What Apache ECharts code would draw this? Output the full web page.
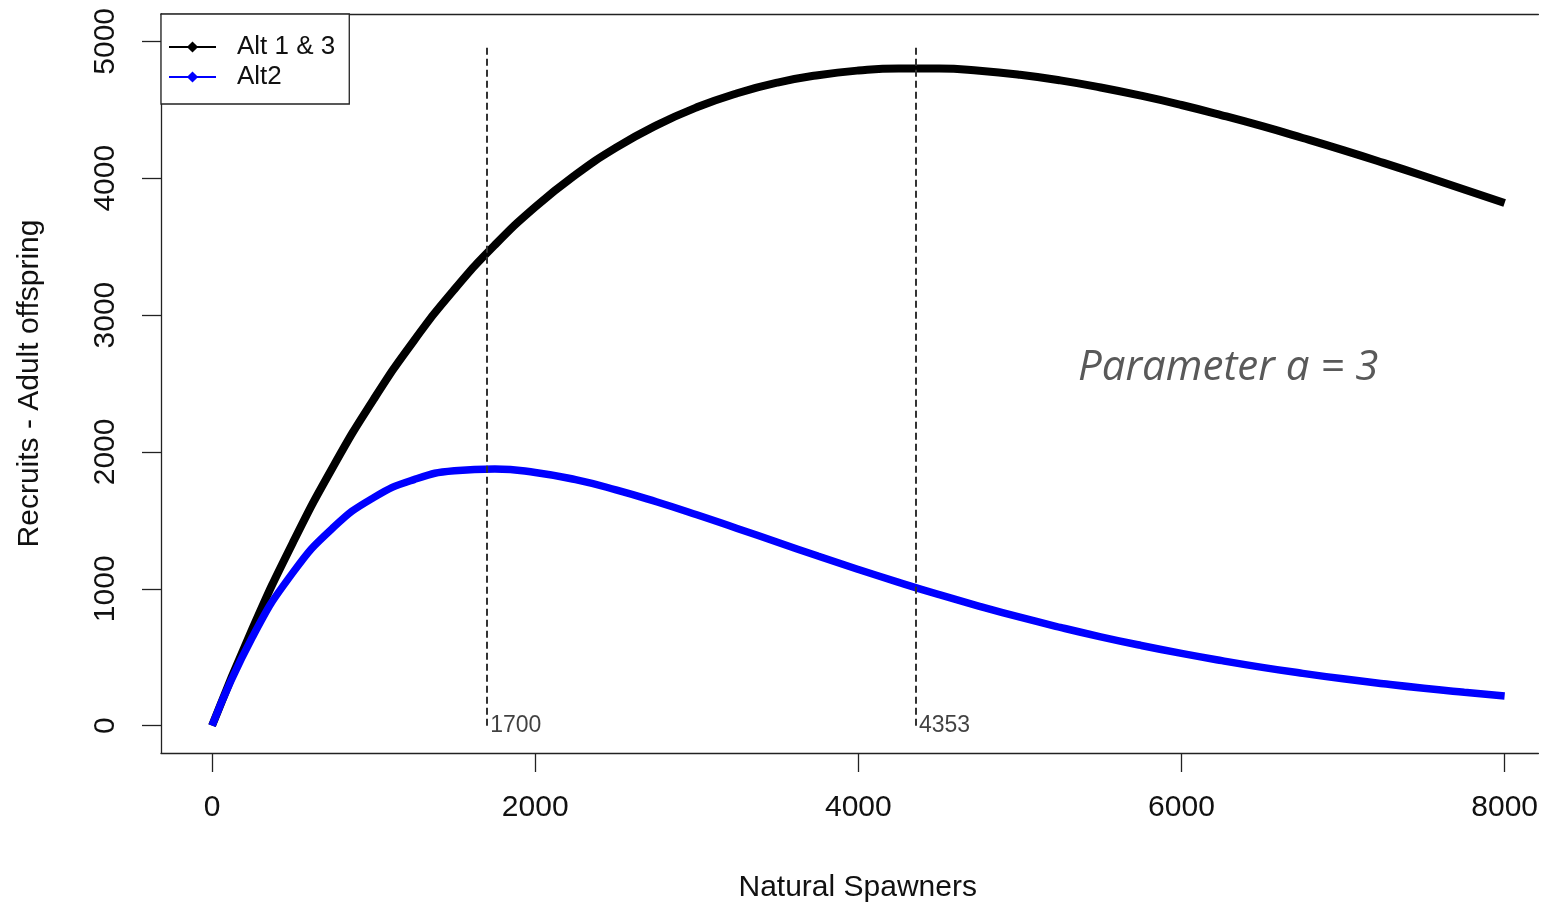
<!DOCTYPE html>
<html>
<head>
<meta charset="utf-8">
<script src="https://cdn.jsdelivr.net/npm/echarts@6/dist/echarts.min.js"></script>
<style>
html,body{margin:0;padding:0;background:#fff;}
#chart{width:1541px;height:912px;}
</style>
</head>
<body>
<div id="chart"></div>
<script>
// Natural spawners (x)
var spawners = [0,250,500,750,1000,1250,1500,1750,2000,2250,2500,2750,3000,3250,3500,3750,4000,4250,4500,4750,5000,5250,5500,5750,6000,6250,6500,6750,7000,7250,7500,7750,8000];
// Recruits, Alt 1 & 3
var alt13 = [0,708,1337,1894,2384,2814,3188,3512,3790,4025,4223,4386,4518,4621,4699,4753,4787,4802,4801,4785,4756,4715,4663,4603,4535,4460,4380,4294,4205,4112,4016,3918,3819];
// Recruits, Alt2
var alt2 = [0,647,1118,1447,1666,1798,1862,1875,1850,1797,1723,1636,1541,1441,1340,1239,1141,1047,957,872,792,718,649,586,528,475,426,382,342,306,273,244,217];
// Reference lines (spawners at max recruits)
var refLines = [1700, 4353];
var xTicks = [0,2000,4000,6000,8000];
var yTicks = [0,1000,2000,3000,4000,5000];
var seriesNames = ['Alt 1 & 3', 'Alt2'];
var annotation = 'Parameter a = 3';

function pairs(xs, ys){ return xs.map(function(x,i){ return [x, ys[i]]; }); }

var chart = echarts.init(document.getElementById('chart'), null, {renderer:'canvas'});
var font = '"Liberation Sans", Arial, sans-serif';
var axisColor = '#222';
var X_MIN = -316, X_MAX = 8209;

chart.setOption({
  animation: false,
  backgroundColor: '#fff',
  grid: {
    left: 161, top: 14, right: 0, bottom: 159,
    show: false, containLabel: false
  },
  legend: {
    data: seriesNames,
    orient: 'vertical',
    left: 161, top: 14,
    borderColor: axisColor, borderWidth: 1.3, borderRadius: 0,
    padding: [20, 14, 14, 7],
    itemWidth: 47, itemHeight: 14, itemGap: 4,
    backgroundColor: '#fff',
    lineStyle: { width: 2 },
    textStyle: { fontFamily: font, fontSize: 26, color: '#111', padding: [0,0,0,16] }
  },
  xAxis: [
    {
      type: 'value', min: X_MIN, max: X_MAX, position: 'bottom',
      name: 'Natural Spawners', nameLocation: 'middle', nameGap: 120,
      nameTextStyle: { fontFamily: font, fontSize: 30, color: '#111', padding: [0,0,0,16] },
      axisLine: { show: true, onZero: false, lineStyle: { color: axisColor, width: 1.3 } },
      splitLine: { show: false },
      axisTick: { show: true, inside: false, length: 19, customValues: xTicks, lineStyle: { color: axisColor, width: 1.3 } },
      axisLabel: { show: true, customValues: xTicks, margin: 40, fontFamily: font, fontSize: 30, color: '#111',
        formatter: function(v){ return String(v); } }
    },
    {
      type: 'value', min: X_MIN, max: X_MAX, position: 'top',
      axisLine: { show: true, onZero: false, lineStyle: { color: axisColor, width: 1.3 } },
      splitLine: { show: false }, axisTick: { show: false }, axisLabel: { show: false }
    }
  ],
  yAxis: {
    type: 'value', min: -200, max: 5200,
    name: 'Recruits - Adult offspring', nameLocation: 'middle', nameGap: 116, nameRotate: 90,
    nameTextStyle: { fontFamily: font, fontSize: 30, color: '#111' },
    axisLine: { show: true, onZero: false, lineStyle: { color: axisColor, width: 1.3 } },
    splitLine: { show: false },
    axisTick: { show: true, inside: false, length: 19, customValues: yTicks, lineStyle: { color: axisColor, width: 1.3 } },
    axisLabel: { show: true, customValues: yTicks, rotate: 90, margin: 40, fontFamily: font, fontSize: 30, color: '#111',
      formatter: function(v){ return String(v); } }
  },
  series: [
    {
      name: seriesNames[0], type: 'line', data: pairs(spawners, alt13),
      smooth: true, symbol: 'diamond', showSymbol: false,
      lineStyle: { color: '#000', width: 8 }, itemStyle: { color: '#000' },
      z: 3
    },
    {
      name: seriesNames[1], type: 'line', data: pairs(spawners, alt2),
      smooth: true, symbol: 'diamond', showSymbol: false,
      lineStyle: { color: '#0000FF', width: 7.5 }, itemStyle: { color: '#0000FF' },
      z: 3
    },
    {
      name: 'refLabels', type: 'scatter', symbolSize: 1, z: 5,
      itemStyle: { color: 'rgba(0,0,0,0)' },
      data: refLines.map(function(v){ return [v, 0]; }),
      label: {
        show: true, position: 'right', distance: 3,
        formatter: function(p){ return String(p.value[0]); },
        fontFamily: font, fontSize: 23, color: '#111'
      },
      markLine: {
        silent: true, symbol: ['none','none'], z: 5,
        lineStyle: { color: '#333', type: [7,4], width: 2 },
        label: { show: false },
        data: refLines.map(function(v){ return [{coord:[v, 0]}, {coord:[v, 4980]}]; })
      }
    }
  ],
  graphic: [
    {
      type: 'text', x: 1078, y: 368, z: 10,
      style: {
        text: annotation, fill: '#595959', verticalAlign: 'middle',
        font: 'italic 42px "Open Sans", Lato, sans-serif'
      }
    }
  ]
});
</script>
</body>
</html>
